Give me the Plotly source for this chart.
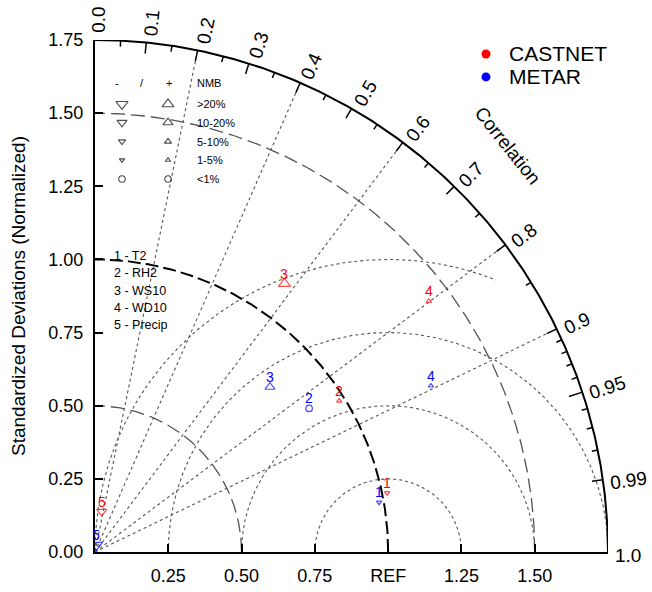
import numpy as np
import plotly.graph_objects as go

# ---------------- data ----------------
var_numbers = ["1", "2", "3", "4", "5"]
var_names = ["T2", "RH2", "WS10", "WD10", "Precip"]

castnet_std = [1.017, 0.980, 1.122, 1.425, 0.140]
castnet_corr = [0.980, 0.850, 0.576, 0.799, 0.164]
castnet_sign = ["-", "+", "+", "+", "-"]
castnet_nmb = ["1-5%", "1-5%", ">20%", "1-5%", "10-20%"]

metar_std = [0.984, 0.880, 0.821, 1.279, 0.0245]
metar_corr = [0.985, 0.830, 0.727, 0.896, 0.200]
metar_sign = ["-", "+", "+", "+", "-"]
metar_nmb = ["1-5%", "<1%", "10-20%", "1-5%", ">20%"]

nmb_classes = [">20%", "10-20%", "5-10%", "1-5%", "<1%"]

corr_tick_vals = [0.0, 0.1, 0.2, 0.3, 0.4, 0.5, 0.6, 0.7, 0.8, 0.9, 0.95, 0.99, 1.0]
corr_tick_text = ["0.0", "0.1", "0.2", "0.3", "0.4", "0.5", "0.6", "0.7", "0.8", "0.9", "0.95", "0.99", "1.0"]
corr_major_ticks = [0.1, 0.2, 0.3, 0.4, 0.5, 0.6, 0.7, 0.8, 0.9, 0.95, 0.99]
corr_minor_ticks = [0.05, 0.15, 0.25, 0.35, 0.45, 0.55, 0.65, 0.75, 0.85,
                    0.91, 0.92, 0.93, 0.94, 0.96, 0.97, 0.98]
corr_rays = [0.2, 0.4, 0.6, 0.8, 0.9]
std_arcs = [0.5, 1.5]
rms_radii = [0.25, 0.5, 0.75, 1.0]
rms_fraction = [1.0, 1.0, 1.0, 0.62]

std_tick_vals = [0.0, 0.25, 0.5, 0.75, 1.0, 1.25, 1.5, 1.75]
std_tick_text = ["0.00", "0.25", "0.50", "0.75", "1.00", "1.25", "1.50", "1.75"]
x_tick_vals = [0.25, 0.5, 0.75, 1.0, 1.25, 1.5]
x_tick_text = ["0.25", "0.50", "0.75", "REF", "1.25", "1.50"]

series_names = ["CASTNET", "METAR"]
series_colors = ["#ff0000", "#0000ff"]

# ---------------- styling ----------------
RMAX = 1.75
W, H = 652, 592
ML, MR, MT, MB = 95, 44, 40, 40
PW, PH = W - ML - MR, H - MT - MB
PPU = PW / RMAX
Y0 = 552                          # screen y of the plot origin
X0 = 95                           # screen x of the plot origin
FONT = "Liberation Sans, Arial, Helvetica, sans-serif"
size_map = {">20%": 10.5, "10-20%": 8.7, "5-10%": 6.3, "1-5%": 4.7, "<1%": 6.5}
RAYCOL = "#555555"

fig = go.Figure()


def line(x, y, color="black", width=1.0, dash="solid"):
    fig.add_trace(go.Scatter(x=x, y=y, mode="lines", hoverinfo="skip",
                             line=dict(color=color, width=width, dash=dash)))


# correlation rays
for c in corr_rays:
    th = np.arccos(c)
    line([0, RMAX * np.cos(th)], [0, RMAX * np.sin(th)], RAYCOL, 1.1, "3px,3px")

# centred RMS circles around REF
for rr, fr in zip(rms_radii, rms_fraction):
    ang = np.linspace(np.pi, np.pi + fr * np.pi, 200)
    line(1.0 + rr * np.cos(ang), np.abs(rr * np.sin(ang)), RAYCOL, 1.1, "3px,3px")

# standard-deviation arcs
t = np.linspace(0, np.pi / 2, 300)
for r in std_arcs:
    line(r * np.cos(t), r * np.sin(t), "#555555", 1.3, "14px,6px")
line(1.0 * np.cos(t), 1.0 * np.sin(t), "black", 2.0, "13px,5px")

# outer arc
line(RMAX * np.cos(t), RMAX * np.sin(t), "black", 2.0)

# ticks on the outer arc (inward)
tx, ty = [], []
for vals, L in ((corr_major_ticks, 11), (corr_minor_ticks, 6)):
    for c in vals:
        th = np.arccos(c)
        ll = (14 if c == 0.95 else L) / PPU
        tx += [RMAX * np.cos(th), (RMAX - ll) * np.cos(th), None]
        ty += [RMAX * np.sin(th), (RMAX - ll) * np.sin(th), None]
line(tx, ty, "black", 1.5)


# data markers
def xy(std, corr):
    s = np.array(std)
    c = np.array(corr)
    return s * c, s * np.sqrt(1 - c ** 2)


def symbol(sign, cls):
    if cls == "<1%":
        return "circle-open"
    return "triangle-up-open" if sign == "+" else "triangle-down-open"


annotations = []


def ann(x, y, text, size, color="black", xanchor="center", angle=0, yshift=0, paper=False):
    d = dict(x=x, y=y, text=text, showarrow=False, xanchor=xanchor, yanchor="middle",
             textangle=angle, yshift=yshift, font=dict(size=size, color=color, family=FONT))
    if paper:
        d.update(xref="paper", yref="paper")
    annotations.append(d)


for std, corr, sign, nmb, col in ((castnet_std, castnet_corr, castnet_sign, castnet_nmb, series_colors[0]),
                                  (metar_std, metar_corr, metar_sign, metar_nmb, series_colors[1])):
    x, y = xy(std, corr)
    fig.add_trace(go.Scatter(
        x=x, y=y, mode="markers", cliponaxis=True, hoverinfo="skip",
        marker=dict(symbol=[symbol(s, c) for s, c in zip(sign, nmb)],
                    size=[size_map[c] for c in nmb], color=col,
                    line=dict(color=col, width=1.2))))
    for xi, yi, lab in zip(x, y, var_numbers):
        ann(xi / RMAX, yi / RMAX, lab, 14, col, yshift=10, paper=True)


# NMB legend table (positions in screen pixels -> data units)
def py2d(p):
    return (Y0 - p) / PPU


def px2d(p):
    return (p - X0) / PPU


col_minus, col_plus, col_text = px2d(122), px2d(168), px2d(195)
row_y = [py2d(v) for v in (103.3, 121.7, 140.7, 159.3, 178.3)]
hdr_y = py2d(81.7)
for txt, xp in (("-", 117), ("/", 142), ("+", 169)):
    ann(px2d(xp), hdr_y, txt, 11)
ann(col_text, hdr_y, "NMB", 11, xanchor="left")
lx, ly, ls, lsz = [], [], [], []
for cls, yy in zip(nmb_classes, row_y):
    for sign, xx in (("-", col_minus), ("+", col_plus)):
        lx.append(xx)
        ly.append(yy)
        ls.append(symbol(sign, cls))
        lsz.append(size_map[cls])
    ann(col_text, yy, cls.replace(">", "&gt;").replace("<", "&lt;"), 11, xanchor="left")
fig.add_trace(go.Scatter(x=lx, y=ly, mode="markers", cliponaxis=False, hoverinfo="skip",
                         marker=dict(symbol=ls, size=lsz, color="black",
                                     line=dict(color="black", width=1.1))))

# variable list
for i, (n, name) in enumerate(zip(var_numbers, var_names)):
    ann(px2d(112), py2d(255 + 17.5 * i), f"{n} - {name}", 12.5, xanchor="left")

# series legend
for i, (name, col) in enumerate(zip(series_names, series_colors)):
    yy = py2d(53 + 23 * i)
    fig.add_trace(go.Scatter(x=[px2d(486)], y=[yy], mode="markers", cliponaxis=False,
                             hoverinfo="skip", marker=dict(size=9, color=col)))
    ann(px2d(507), yy, name, 21, xanchor="left")


# correlation labels around the arc (paper coords so they are never hidden)
def text_w(s):
    return sum(0.278 if ch == "." else 0.556 for ch in s)


FS_ARC = 19
for v, lab in zip(corr_tick_vals, corr_tick_text):
    th = np.arccos(v)
    rc = RMAX + (7 + text_w(lab) * FS_ARC / 2) / PPU
    off = 4 / PPU
    xd = rc * np.cos(th) + off * np.sin(th)
    yd = rc * np.sin(th) - off * np.cos(th)
    ann(xd / RMAX, yd / RMAX, lab, FS_ARC, angle=-np.degrees(th), paper=True)

ann(px2d(507.5) / RMAX, py2d(145) / RMAX, "Correlation", 19, angle=51.4, paper=True)
ann((18 - X0) / PW, 0.5, "Standardized Deviations (Normalized)", 19, angle=-90, paper=True)

fig.update_layout(width=W, height=H, margin=dict(l=ML, r=MR, t=MT, b=MB, autoexpand=False),
                  plot_bgcolor="white", paper_bgcolor="white", showlegend=False,
                  font=dict(family=FONT, color="black"), annotations=annotations)
axis_common = dict(range=[0, RMAX], showgrid=False, zeroline=False, showline=True,
                   linewidth=2, linecolor="black", ticks="inside", ticklen=8,
                   tickwidth=1.5, tickcolor="black", tickfont=dict(size=18, family=FONT),
                   fixedrange=True, automargin=False)
fig.update_xaxes(tickvals=x_tick_vals, ticktext=x_tick_text, ticklabelstandoff=6, **axis_common)
fig.update_yaxes(tickvals=std_tick_vals, ticktext=std_tick_text, ticklabelstandoff=6, **axis_common)

# remove the browser's default page margin so the figure fills the window exactly
fig.write_html("out.html", post_script="document.body.style.margin='0px';",
               config={"displayModeBar": False})
